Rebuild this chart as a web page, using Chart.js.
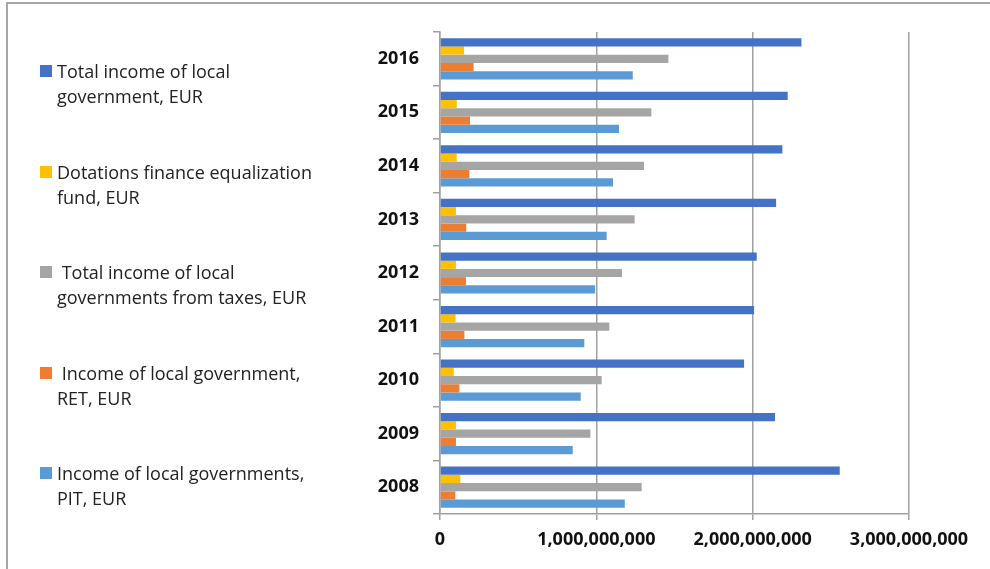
<!DOCTYPE html>
<html>
<head>
<meta charset="utf-8">
<script src="https://cdn.jsdelivr.net/npm/chart.js@4.4.1/dist/chart.umd.min.js"></script>
<style>
  html, body { margin: 0; padding: 0; background: #fff; }
  #wrap { position: relative; width: 990px; height: 569px; overflow: hidden; }
  #frame { position: absolute; left: 6px; top: 2px; right: -4px; bottom: -4px;
           border-top: 2px solid #a6a6a6; border-left: 2px solid #a6a6a6; }
  #chart { position: absolute; left: 0; top: 0; }
  .legend-item { position: absolute; left: 40px; font-family: "Open Sans", sans-serif;
                 font-size: 18px; line-height: 25px; color: #222; white-space: pre; }
  .legend-item .box { position: absolute; left: 0; top: 6px; width: 12px; height: 12px; }
  .legend-item .txt { position: absolute; left: 17px; top: 0; }
</style>
</head>
<body>
<div id="wrap">
  <div id="frame"></div>
  <canvas id="chart" width="990" height="569"></canvas>
  <div id="legend"></div>
</div>
<script>
const years = ["2016", "2015", "2014", "2013", "2012", "2011", "2010", "2009", "2008"];

const seriesNames = [
    "Total income of local\ngovernment, EUR",
    "Dotations finance equalization\nfund, EUR",
    " Total income of local\ngovernments from taxes, EUR",
    " Income of local government,\nRET, EUR",
    "Income of local governments,\nPIT, EUR"
];
const seriesColors = ["#4472C4", "#FFC000", "#A5A5A5", "#ED7D31", "#5B9BD5"];

// values in EUR (2016 -> 2008)
const totalIncome = [2312e6, 2224e6, 2190e6, 2150e6, 2026e6, 2009e6, 1945e6, 2143e6, 2557e6];
const dotations   = [154e6, 107e6, 107e6, 102e6, 102e6, 100e6, 88e6, 102e6, 130e6];
const taxIncome   = [1461e6, 1352e6, 1305e6, 1245e6, 1164e6, 1083e6, 1034e6, 962e6, 1290e6];
const retIncome   = [215e6, 192e6, 188e6, 168e6, 166e6, 156e6, 124e6, 102e6, 98e6];
const pitIncome   = [1233e6, 1145e6, 1107e6, 1066e6, 992e6, 923e6, 900e6, 849e6, 1182e6];

const xTicks = [0, 1e9, 2e9, 3e9];

const allValues = [totalIncome, dotations, taxIncome, retIncome, pitIncome];

const datasets = allValues.map((vals, i) => ({
    label: seriesNames[i],
    data: vals,
    backgroundColor: seriesColors[i],
    borderWidth: 0,
    categoryPercentage: 0.77,
    barPercentage: 1.0
}));

// legend on the left, as html text
const legendDiv = document.getElementById("legend");
seriesNames.forEach((name, i) => {
    const item = document.createElement("div");
    item.className = "legend-item";
    item.style.top = (59 + i * 100.5) + "px";
    const box = document.createElement("span");
    box.className = "box";
    box.style.background = seriesColors[i];
    const txt = document.createElement("span");
    txt.className = "txt";
    txt.innerText = name;
    item.appendChild(box);
    item.appendChild(txt);
    legendDiv.appendChild(item);
});

const gridGray = "#a0a0a0";
const tickFont = { family: "'Open Sans', sans-serif", size: 18, weight: "bold" };

const chart = new Chart(document.getElementById("chart"), {
    type: "bar",
    data: { labels: years, datasets: datasets },
    options: {
        indexAxis: "y",
        responsive: false,
        animation: false,
        devicePixelRatio: 1,
        layout: { padding: { left: 360, top: 32, right: 81, bottom: 0 } },
        plugins: {
            legend: { display: false },
            tooltip: { enabled: false }
        },
        scales: {
            x: {
                min: 0,
                max: 3e9,
                afterBuildTicks: (scale) => { scale.ticks = xTicks.map(v => ({ value: v })); },
                afterFit: (scale) => { scale.height = 55; },
                grid: { color: gridGray, lineWidth: 1.5, tickLength: 6, drawTicks: true },
                border: { display: true, color: gridGray, width: 1.5 },
                ticks: {
                    color: "#111",
                    font: tickFont,
                    padding: 9,
                    maxRotation: 0,
                    callback: (v) => Number(v).toLocaleString("en-US")
                }
            },
            y: {
                afterFit: (scale) => { scale.width = 80; },
                grid: { drawOnChartArea: false, color: gridGray, lineWidth: 1.5, tickLength: 7, offset: true },
                border: { display: true, color: gridGray, width: 1.5 },
                ticks: { color: "#111", font: tickFont, padding: 14 }
            }
        }
    }
});
</script>
</body>
</html>
